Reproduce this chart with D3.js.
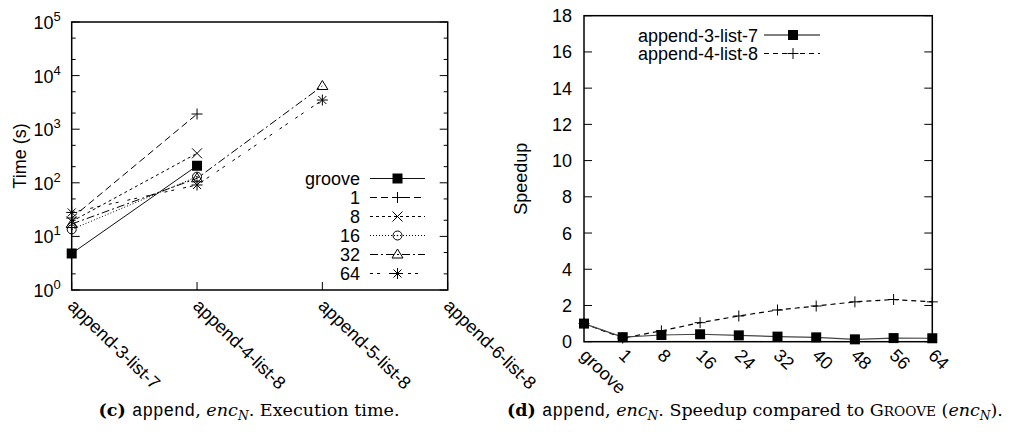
<!DOCTYPE html>
<html>
<head>
<meta charset="utf-8">
<script src="https://cdn.jsdelivr.net/npm/d3@7"></script>
<style>
  body { margin: 0; background: #fff; }
  svg { display: block; }
  .tick-label { font-family: "Liberation Sans", Arial, sans-serif; font-size: 18px; fill: #000; }
  .caption { font-family: "DejaVu Serif", "Liberation Serif", serif; fill: #000; }
</style>
</head>
<body>
<svg id="chart" width="1013" height="432"></svg>
<script>
// ---- data: left panel (execution time, log scale)
var timeCats = ["append-3-list-7", "append-4-list-8", "append-5-list-8", "append-6-list-8"];
var timeGroove = [4.8, 208, null, null];
var time1 = [22, 1920, null, null];
var time8 = [19, 355, null, null];
var time16 = [13.5, 130, null, null];
var time32 = [17, 121, 6400, null];
var time64 = [28, 91, 3500, null];
var timeTicks = [1, 10, 100, 1000, 10000, 100000];

// ---- data: right panel (speedup)
var speedCats = ["groove", "1", "8", "16", "24", "32", "40", "48", "56", "64"];
var speed3 = [1.0, 0.25, 0.37, 0.41, 0.35, 0.28, 0.24, 0.13, 0.2, 0.19];
var speed4 = [1.0, 0.2, 0.6, 1.05, 1.42, 1.75, 1.97, 2.2, 2.33, 2.2];
var speedTicks = [0, 2, 4, 6, 8, 10, 12, 14, 16, 18];

var svg = d3.select("#chart");

// marker shapes
function marker(g, kind, x, y) {
    if (kind == "square") {
        g.append("rect").attr("x", x - 5).attr("y", y - 5).attr("width", 10).attr("height", 10).attr("fill", "#000");
    } else if (kind == "plus") {
        g.append("path").attr("d", "M" + (x - 5.5) + "," + y + "H" + (x + 5.5) + "M" + x + "," + (y - 5.5) + "V" + (y + 5.5))
            .attr("stroke", "#000").attr("stroke-width", 1).attr("fill", "none");
    } else if (kind == "cross") {
        g.append("path").attr("d", "M" + (x - 5) + "," + (y - 5) + "L" + (x + 5) + "," + (y + 5) + "M" + (x - 5) + "," + (y + 5) + "L" + (x + 5) + "," + (y - 5))
            .attr("stroke", "#000").attr("stroke-width", 1).attr("fill", "none");
    } else if (kind == "circle") {
        g.append("circle").attr("cx", x).attr("cy", y).attr("r", 4.5).attr("stroke", "#000").attr("fill", "none");
        g.append("circle").attr("cx", x).attr("cy", y).attr("r", 0.8).attr("fill", "#000");
    } else if (kind == "triangle") {
        g.append("path").attr("d", "M" + x + "," + (y - 5.5) + "L" + (x + 5.5) + "," + (y + 3.5) + "L" + (x - 5.5) + "," + (y + 3.5) + "Z")
            .attr("stroke", "#000").attr("fill", "none");
    } else if (kind == "star") {
        g.append("path").attr("d", "M" + (x - 5.5) + "," + y + "H" + (x + 5.5) + "M" + x + "," + (y - 5.5) + "V" + (y + 5.5) +
            "M" + (x - 4) + "," + (y - 4) + "L" + (x + 4) + "," + (y + 4) + "M" + (x - 4) + "," + (y + 4) + "L" + (x + 4) + "," + (y - 4))
            .attr("stroke", "#000").attr("stroke-width", 1).attr("fill", "none");
    }
}

// ================= LEFT PANEL =================
var L = { left: 71.7, right: 447.7, top: 22, bottom: 290 };
var xL = d3.scalePoint().domain(timeCats).range([L.left, L.right]);
var yL = d3.scaleLog().domain([1, 100000]).range([L.bottom, L.top]);

var left = svg.append("g");

// minor ticks (2 and 5 in each decade) on both sides
var minor = [];
timeTicks.slice(0, -1).forEach(function(t) { minor.push(t * 2); minor.push(t * 5); });
minor.forEach(function(v) {
    left.append("line").attr("x1", L.left).attr("x2", L.left + 4).attr("y1", yL(v)).attr("y2", yL(v)).attr("stroke", "#000");
    left.append("line").attr("x1", L.right).attr("x2", L.right - 4).attr("y1", yL(v)).attr("y2", yL(v)).attr("stroke", "#000");
});
timeTicks.forEach(function(v, i) {
    left.append("line").attr("x1", L.left).attr("x2", L.left + 8).attr("y1", yL(v)).attr("y2", yL(v)).attr("stroke", "#000");
    left.append("line").attr("x1", L.right).attr("x2", L.right - 8).attr("y1", yL(v)).attr("y2", yL(v)).attr("stroke", "#000");
    var t = left.append("text").attr("class", "tick-label").attr("x", L.left - 11).attr("y", yL(v) + 7).attr("text-anchor", "end");
    t.append("tspan").text("10");
    t.append("tspan").attr("dy", -8).attr("font-size", 13).text(i);
});
// bottom ticks and labels
timeCats.forEach(function(c) {
    left.append("line").attr("x1", xL(c)).attr("x2", xL(c)).attr("y1", L.bottom).attr("y2", L.bottom - 8).attr("stroke", "#000");
    left.append("text").attr("class", "tick-label")
        .attr("transform", "translate(" + (xL(c) - 5) + "," + (L.bottom + 17) + ") rotate(44)")
        .text(c);
});
left.append("rect").attr("x", L.left).attr("y", L.top).attr("width", L.right - L.left).attr("height", L.bottom - L.top)
    .attr("fill", "none").attr("stroke", "#000").attr("stroke-width", 1.5);
left.append("text").attr("class", "tick-label")
    .attr("transform", "translate(26," + ((L.top + L.bottom) / 2) + ") rotate(-90)")
    .attr("text-anchor", "middle").text("Time (s)");

var timeSeries = [
    { name: "groove", values: timeGroove, dash: null, mark: "square", color: "#111" },
    { name: "1", values: time1, dash: "7,4", mark: "plus", color: "#000" },
    { name: "8", values: time8, dash: "3,3", mark: "cross", color: "#000" },
    { name: "16", values: time16, dash: "1,2", mark: "circle", color: "#000" },
    { name: "32", values: time32, dash: "8,3,2,3", mark: "triangle", color: "#000" },
    { name: "64", values: time64, dash: "3,4,3,9", mark: "star", color: "#000" }
];
var lineL = d3.line()
    .defined(function(d) { return d.v != null; })
    .x(function(d) { return xL(d.c); })
    .y(function(d) { return yL(d.v); });

timeSeries.forEach(function(s) {
    var pts = s.values.map(function(v, i) { return { c: timeCats[i], v: v }; });
    left.append("path").attr("d", lineL(pts)).attr("fill", "none").attr("stroke", s.color)
        .attr("stroke-width", 1).attr("stroke-dasharray", s.dash);
    pts.forEach(function(p) { if (p.v != null) marker(left, s.mark, xL(p.c), yL(p.v)); });
});

// legend (left)
timeSeries.forEach(function(s, i) {
    var y = 178.5 + i * 19;
    left.append("text").attr("class", "tick-label").attr("x", 360).attr("y", y + 6.5).attr("text-anchor", "end").text(s.name);
    left.append("line").attr("x1", 370).attr("x2", 425).attr("y1", y).attr("y2", y).attr("stroke", s.color)
        .attr("stroke-dasharray", s.dash);
    marker(left, s.mark, 397.5, y);
});

// ================= RIGHT PANEL =================
var R = { left: 584, right: 932.3, top: 15.7, bottom: 341.7 };
var xR = d3.scalePoint().domain(speedCats).range([R.left, R.right]);
var yR = d3.scaleLinear().domain([0, 18]).range([R.bottom, R.top]);
var right = svg.append("g");

speedTicks.forEach(function(v) {
    right.append("line").attr("x1", R.left).attr("x2", R.left + 8).attr("y1", yR(v)).attr("y2", yR(v)).attr("stroke", "#000");
    right.append("line").attr("x1", R.right).attr("x2", R.right - 8).attr("y1", yR(v)).attr("y2", yR(v)).attr("stroke", "#000");
    right.append("text").attr("class", "tick-label").attr("x", R.left - 12).attr("y", yR(v) + 6.5)
        .attr("text-anchor", "end").text(v);
});
speedCats.forEach(function(c) {
    right.append("text").attr("class", "tick-label")
        .attr("transform", "translate(" + (xR(c) - 5) + "," + (R.bottom + 15) + ") rotate(44)")
        .text(c);
});
right.append("rect").attr("x", R.left).attr("y", R.top).attr("width", R.right - R.left).attr("height", R.bottom - R.top)
    .attr("fill", "none").attr("stroke", "#000").attr("stroke-width", 1.5);
right.append("text").attr("class", "tick-label")
    .attr("transform", "translate(527," + ((R.top + R.bottom) / 2) + ") rotate(-90)")
    .attr("text-anchor", "middle").text("Speedup");

var speedSeries = [
    { name: "append-3-list-7", values: speed3, dash: null, mark: "square", color: "#444" },
    { name: "append-4-list-8", values: speed4, dash: "5,4", mark: "plus", color: "#000" }
];
var lineR = d3.line()
    .x(function(d) { return xR(d.c); })
    .y(function(d) { return yR(d.v); });
speedSeries.slice().reverse().forEach(function(s) {
    var pts = s.values.map(function(v, i) { return { c: speedCats[i], v: v }; });
    right.append("path").attr("d", lineR(pts)).attr("fill", "none").attr("stroke", s.color)
        .attr("stroke-width", 1.2).attr("stroke-dasharray", s.dash);
    pts.forEach(function(p) { marker(right, s.mark, xR(p.c), yR(p.v)); });
});
speedSeries.forEach(function(s, i) {
    var y = 35 + i * 18.5;
    right.append("text").attr("class", "tick-label").attr("x", 758).attr("y", y + 6.5).attr("text-anchor", "end").text(s.name);
    right.append("line").attr("x1", 764).attr("x2", 820).attr("y1", y).attr("y2", y).attr("stroke", s.color == "#444" ? "#000" : "#000")
        .attr("stroke-dasharray", s.dash);
    marker(right, s.mark, 793, y);
});

// ================= CAPTIONS =================
// caption font size is fitted so that the line spans the same width as in the figure
function caption(x, width, parts) {
    var size = 18, t;
    for (var k = 0; k < 3; k++) {
        if (t) t.remove();
        t = svg.append("text").attr("class", "caption").attr("x", x).attr("y", 416)
            .attr("text-anchor", "middle").attr("font-size", size);
        parts.forEach(function(p) {
            var s = t.append("tspan").text(p.t);
            if (p.b) s.attr("font-weight", "bold");
            if (p.i) s.attr("font-style", "italic");
            if (p.m) s.attr("font-family", "'Liberation Mono', monospace");
            if (p.sub) s.attr("font-size", size * 0.7).attr("dy", 4);
            if (p.up) s.attr("dy", -4);
            if (p.sc) s.attr("font-size", size * 0.78);
        });
        size = size * width / t.node().getBBox().width;
    }
}
caption(249, 301, [
    { t: "(c) ", b: true }, { t: "append", m: true }, { t: ", " }, { t: "enc", i: true },
    { t: "N", i: true, sub: true }, { t: ". Execution time.", up: true }
]);
caption(755, 496, [
    { t: "(d) ", b: true }, { t: "append", m: true }, { t: ", " }, { t: "enc", i: true },
    { t: "N", i: true, sub: true }, { t: ". Speedup compared to G", up: true }, { t: "ROOVE", sc: true },
    { t: " (" }, { t: "enc", i: true }, { t: "N", i: true, sub: true }, { t: ").", up: true }
]);
</script>
</body>
</html>
